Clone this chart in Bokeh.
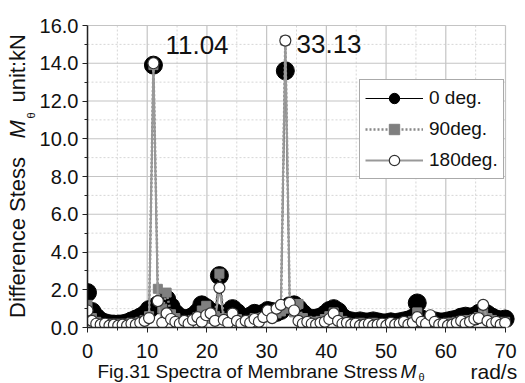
from bokeh.plotting import figure
from bokeh.models import (Range1d, FixedTicker, PrintfTickFormatter, Label,
                          Legend, LegendItem, ColumnDataSource)
from bokeh.embed import file_html
from bokeh.resources import INLINE
import math

# ---- data ----
freq = [0.00, 0.74, 1.47, 2.21, 2.94, 3.68, 4.42, 5.15, 5.89, 6.63,
        7.36, 8.10, 8.83, 9.57, 10.31, 11.04, 11.78, 12.52, 13.25, 13.99,
        14.72, 15.46, 16.20, 16.93, 17.67, 18.41, 19.14, 19.88, 20.61, 21.35,
        22.09, 22.82, 23.56, 24.29, 25.03, 25.77, 26.50, 27.24, 27.98, 28.71,
        29.45, 30.18, 30.92, 31.66, 32.39, 33.13, 33.87, 34.60, 35.34, 36.07,
        36.81, 37.55, 38.28, 39.02, 39.75, 40.49, 41.23, 41.96, 42.70, 43.44,
        44.17, 44.91, 45.64, 46.38, 47.12, 47.85, 48.59, 49.33, 50.06, 50.80,
        51.53, 52.27, 53.01, 53.74, 54.48, 55.22, 55.95, 56.69, 57.42, 58.16,
        58.90, 59.63, 60.37, 61.10, 61.84, 62.58, 63.31, 64.05, 64.79, 65.52,
        66.26, 66.99, 67.73, 68.47, 69.20, 69.94]

deg0 = [1.85, 0.85, 0.55, 0.35, 0.25, 0.20, 0.18, 0.18, 0.20, 0.25,
        0.35, 0.45, 0.55, 0.70, 0.95, 13.90, 1.20, 1.35, 1.50, 1.10,
        0.75, 0.55, 0.45, 0.50, 0.60, 0.80, 1.20, 1.05, 0.70, 0.80,
        2.75, 0.70, 0.60, 1.00, 0.80, 0.55, 0.50, 0.60, 0.75, 0.65,
        0.75, 0.90, 0.85, 0.80, 0.90, 13.60, 1.15, 1.20, 1.00, 0.75,
        0.55, 0.45, 0.50, 0.55, 0.70, 0.90, 1.00, 0.85, 0.55, 0.40,
        0.35, 0.30, 0.35, 0.30, 0.30, 0.35, 0.30, 0.25, 0.25, 0.30,
        0.25, 0.30, 0.35, 0.40, 0.50, 1.30, 0.45, 0.35, 0.40, 0.35,
        0.30, 0.30, 0.35, 0.40, 0.45, 0.55, 0.60, 0.55, 0.60, 0.75,
        0.85, 0.70, 0.55, 0.45, 0.40, 0.45]

deg90 = [1.20, 0.50, 0.30, 0.20, 0.15, 0.20, 0.15, 0.20, 0.15, 0.20,
         0.25, 0.20, 0.30, 0.40, 0.60, 13.90, 2.05, 1.00, 1.85, 0.70,
         0.50, 0.35, 0.30, 0.35, 0.40, 0.55, 0.90, 1.15, 0.50, 0.60,
         2.85, 0.50, 0.40, 0.70, 0.45, 0.35, 0.30, 0.40, 0.50, 0.45,
         0.55, 0.70, 0.60, 0.75, 0.85, 15.20, 1.00, 0.80, 1.25, 0.50,
         0.35, 0.30, 0.30, 0.35, 0.45, 0.60, 0.80, 0.55, 0.35, 0.25,
         0.20, 0.20, 0.25, 0.20, 0.20, 0.25, 0.20, 0.15, 0.20, 0.20,
         0.15, 0.20, 0.25, 0.25, 0.35, 0.80, 0.30, 0.25, 0.35, 0.25,
         0.20, 0.20, 0.25, 0.25, 0.30, 0.35, 0.40, 0.35, 0.45, 0.55,
         0.75, 0.50, 0.40, 0.30, 0.25, 0.30]

deg180 = [0.90, 0.35, 0.20, 0.15, 0.20, 0.10, 0.15, 0.10, 0.15, 0.10,
          0.20, 0.15, 0.25, 0.35, 0.50, 14.00, 1.40, 0.25, 0.75, 0.45,
          0.30, 0.20, 0.35, 0.20, 0.40, 0.55, 0.30, 0.65, 0.75, 0.35,
          2.10, 0.40, 0.25, 0.74, 0.35, 0.20, 0.35, 0.25, 0.45, 0.30,
          0.55, 0.90, 0.50, 1.00, 1.20, 15.20, 1.30, 0.90, 0.35, 0.20,
          0.30, 0.20, 0.15, 0.25, 0.30, 0.45, 0.75, 0.35, 0.20, 0.25,
          0.15, 0.20, 0.10, 0.15, 0.20, 0.10, 0.15, 0.20, 0.10, 0.25,
          0.15, 0.20, 0.30, 0.15, 0.25, 0.55, 0.30, 0.20, 0.65, 0.30,
          0.15, 0.20, 0.10, 0.15, 0.25, 0.35, 0.20, 0.30, 0.45, 0.50,
          1.20, 0.35, 0.20, 0.30, 0.15, 0.25]

x_ticks = [0, 10, 20, 30, 40, 50, 60, 70]
x_minor = [5, 15, 25, 35, 45, 55, 65]
y_ticks = [0, 2, 4, 6, 8, 10, 12, 14, 16]
y_minor = [1, 3, 5, 7, 9, 11, 13, 15]
peak_labels = ["11.04", "33.13"]
peak_pos = [(13.05, 14.95), (35.0, 15.0)]
series_names = ["0 deg.", "90deg.", "180deg."]

FONT = "Liberation Sans"
W, H = 525, 383
# pixel placement of the data box (x: 0..70, y: 0..16) inside the canvas
PX0, PX1, PY0, PY1 = 87.0, 505.0, 327.0, 25.0
XMIN, XMAX = x_ticks[0], x_ticks[-1]
YMIN, YMAX = y_ticks[0], y_ticks[-1]
sx = (PX1 - PX0) / (XMAX - XMIN)
sy = (PY0 - PY1) / (YMAX - YMIN)
x_lo, x_hi = XMIN - PX0 / sx, XMIN + (W - PX0) / sx
y_lo, y_hi = YMIN - (H - PY0) / sy, YMIN + PY0 / sy

src = ColumnDataSource(dict(f=freq, a=deg0, b=deg90, c=deg180))

p = figure(width=W, height=H, x_range=Range1d(x_lo, x_hi),
           y_range=Range1d(y_lo, y_hi),
           output_backend="svg", toolbar_location=None, min_border=0)
p.outline_line_color = None
p.background_fill_color = "white"
p.border_fill_color = "white"
p.grid.visible = False

# grid (drawn as plain lines inside the data box)
p.segment(x0=x_minor, x1=x_minor, y0=[YMIN] * len(x_minor), y1=[YMAX] * len(x_minor),
          line_color="#d6d6d6", line_width=1, line_dash="2 2")
p.segment(x0=[XMIN] * len(y_minor), x1=[XMAX] * len(y_minor), y0=y_minor, y1=y_minor,
          line_color="#d6d6d6", line_width=1, line_dash="2 2")
p.segment(x0=x_ticks, x1=x_ticks, y0=[YMIN] * len(x_ticks), y1=[YMAX] * len(x_ticks),
          line_color="#c4c4c4", line_width=1.2)
p.segment(x0=[XMIN] * len(y_ticks), x1=[XMAX] * len(y_ticks), y0=y_ticks, y1=y_ticks,
          line_color="#c4c4c4", line_width=1.2)

# series
l0 = p.line("f", "a", source=src, line_color="black", line_width=1)
s0 = p.scatter("f", "a", source=src, marker="circle", size=18,
               fill_color="black", line_color="black")
l1 = p.line("f", "b", source=src, line_color="#888888", line_width=2.5,
            line_dash="2 2")
s1 = p.scatter("f", "b", source=src, marker="square", size=9,
               fill_color="#7f7f7f", line_color="#7f7f7f")
l2 = p.line("f", "c", source=src, line_color="#999999", line_width=2)
s2 = p.scatter("f", "c", source=src, marker="circle", size=11,
               fill_color="white", line_color="#333333", line_width=1.2)

# white masks: clip marks to the data box (left of x=0, below y=0)
p.quad(left=[x_lo], right=[XMIN], bottom=[y_lo], top=[y_hi],
       fill_color="white", line_color=None)
p.quad(left=[x_lo], right=[x_hi], bottom=[y_lo], top=[YMIN],
       fill_color="white", line_color=None)

# axes fixed at the data box edges
p.xaxis.fixed_location = YMIN
p.yaxis.fixed_location = XMIN
p.xaxis.bounds = (XMIN, XMAX)
p.yaxis.bounds = (YMIN, YMAX)
p.xaxis.ticker = FixedTicker(ticks=x_ticks, minor_ticks=x_minor)
p.yaxis.ticker = FixedTicker(ticks=y_ticks, minor_ticks=y_minor)
p.yaxis.formatter = PrintfTickFormatter(format="%.1f")
for ax in (p.xaxis[0], p.yaxis[0]):
    ax.axis_line_color = "#222222"
    ax.axis_line_width = 1.5
    ax.major_tick_line_color = "#222222"
    ax.minor_tick_line_color = "#222222"
    ax.major_tick_out = 5
    ax.major_tick_in = 0
    ax.minor_tick_out = 3
    ax.minor_tick_in = 0
    ax.major_label_text_font = FONT
    ax.major_label_text_font_size = "20px"
    ax.major_label_text_color = "#111111"
    ax.major_label_standoff = 4
p.xaxis.major_label_standoff = 11

legend = Legend(items=[LegendItem(label=series_names[0], renderers=[l0, s0]),
                       LegendItem(label=series_names[1], renderers=[l1, s1]),
                       LegendItem(label=series_names[2], renderers=[l2, s2])],
                location=(359, H - 179))
legend.label_text_font = FONT
legend.label_text_font_size = "19px"
legend.label_text_color = "#111111"
legend.glyph_width = 58
legend.glyph_height = 26
legend.label_height = 26
legend.label_standoff = 6
legend.spacing = 5
legend.padding = 5
legend.margin = 0
legend.border_line_color = "#555555"
legend.border_line_width = 1
legend.background_fill_alpha = 1
p.add_layout(legend)

# peak annotations
for txt, (px, py) in zip(peak_labels, peak_pos):
    p.add_layout(Label(x=px, y=py, text=txt, text_font=FONT,
                       text_font_size="26px", text_color="#111111",
                       text_baseline="alphabetic"))

# y axis label pieces (rotated), placed in screen pixels
def ylab(text, py, px=17.0, size="22px", style="normal", align="left"):
    p.add_layout(Label(x=px, y=H - py, x_units="screen", y_units="screen",
                       text=text, angle=math.pi / 2,
                       text_font=FONT, text_font_size=size,
                       text_font_style=style, text_align=align,
                       text_baseline="alphabetic", text_color="#111111"))

ylab("Difference Stess", 237, align="center")
ylab("M", 138, style="italic")
ylab("\u03b8", 118, px=30, size="11px")
ylab("unit:kN", 102)

# x axis label pieces
def xlab(text, px, py=370.5, size="19px", style="normal"):
    p.add_layout(Label(x=px, y=H - py, x_units="screen", y_units="screen",
                       text=text, text_font=FONT,
                       text_font_size=size, text_font_style=style,
                       text_baseline="alphabetic", text_color="#111111"))

xlab("Fig.31 Spectra of Membrane Stress", 97)
xlab("M", 400, style="italic")
xlab("\u03b8", 418, py=376, size="11px")
xlab("rad/s", 470, size="21px")

open("out.html", "w").write(file_html(p, INLINE))
